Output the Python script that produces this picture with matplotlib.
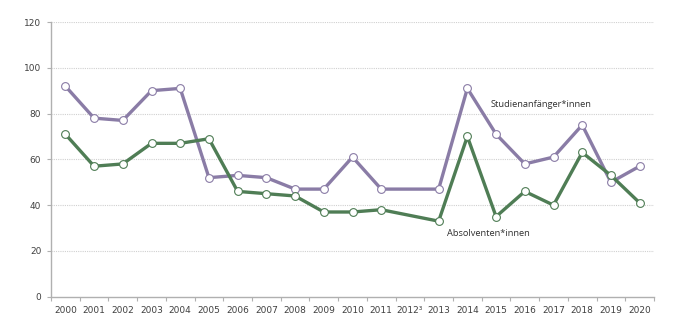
import numpy as np
import matplotlib
matplotlib.use("Agg")
import matplotlib.pyplot as plt

years = ["2000", "2001", "2002", "2003", "2004", "2005", "2006", "2007", "2008", "2009",
         "2010", "2011", "2012³", "2013", "2014", "2015", "2016", "2017", "2018", "2019", "2020"]
studienanfaenger = [92, 78, 77, 90, 91, 52, 53, 52, 47, 47, 61, 47, np.nan, 47, 91, 71, 58, 61, 75, 50, 57]
absolventen = [71, 57, 58, 67, 67, 69, 46, 45, 44, 37, 37, 38, np.nan, 33, 70, 35, 46, 40, 63, 53, 41]
yticks = [0, 20, 40, 60, 80, 100, 120]

purple = "#8a7ca6"
green = "#4f7d55"

fig = plt.figure(figsize=(6.75, 3.28), dpi=100)
ax = fig.add_axes([51/675, 1 - 296.7/328, (654-51)/675, (296.7-22)/328])

x = np.arange(len(years))

def draw(vals, color):
    v = np.array(vals, dtype=float)
    m = ~np.isnan(v)
    ax.plot(x[m], v[m], color=color, lw=2.4, marker="o", ms=5.6,
            mfc="white", mec=color, mew=0.8, zorder=3, solid_joinstyle="round")

draw(studienanfaenger, purple)
draw(absolventen, green)

ax.set_xlim(-0.5, len(years) - 0.5)
ax.set_ylim(0, 120)
ax.set_yticks(yticks)
ax.set_yticklabels([str(t) for t in yticks], fontsize=6.5, color="#404040")
ax.set_xticks(x)
ax.set_xticklabels(years, fontsize=6.5, color="#404040")
ax.set_xticks(np.arange(-0.5, len(years), 1), minor=True)
ax.tick_params(axis="x", which="major", length=0, pad=7)
ax.tick_params(axis="x", which="minor", length=3, color="#b0b0b0", width=0.8)
ax.tick_params(axis="y", length=3, color="#b0b0b0", width=0.8, pad=4)

for t in yticks[1:]:
    ax.axhline(t, color="#d0d0d0", lw=0.8, ls=(0, (1, 1)), zorder=1)

for s in ["top", "right"]:
    ax.spines[s].set_visible(False)
for s in ["left", "bottom"]:
    ax.spines[s].set_color("#b0b0b0")
    ax.spines[s].set_linewidth(1.0)

ax.text(14.8, 84, "Studienanfänger*innen", fontsize=6.7, color="#303030",
        family="Open Sans", ha="left", va="center")
ax.text(13.3, 27.4, "Absolventen*innen", fontsize=6.7, color="#303030",
        family="Open Sans", ha="left", va="center")

fig.savefig("out.png", dpi=100)
